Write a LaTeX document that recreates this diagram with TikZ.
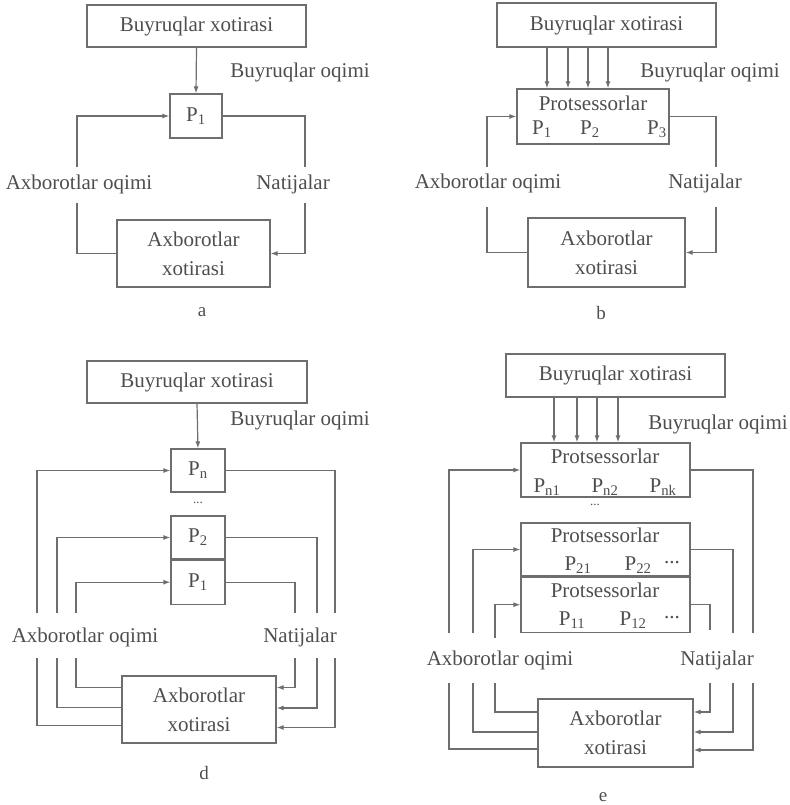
\documentclass[tikz,border=0pt]{standalone}
\usepackage{fontspec}
\setmainfont{Liberation Serif}
\usetikzlibrary{arrows.meta,positioning,calc}
\definecolor{linegray}{HTML}{6E6E6E}
\definecolor{textgray}{HTML}{4E4E4E}
\tikzset{
  membox/.style = {draw=linegray, line width=1.2pt, rectangle, inner sep=0pt,
                   align=center, text=textgray},
  txt/.style    = {text=textgray, inner sep=0pt},
  dots/.style   = {txt, font=\fontsize{13}{14}\selectfont},
  wire/.style   = {draw=linegray, line width=1.2pt},
  sig/.style    = {wire, -{Latex[length=7pt,width=5pt]}},
}
\newcommand{\Ps}[1]{P\textsubscript{#1}}

\begin{document}
\begin{tikzpicture}[x=1pt,y=-1pt,font=\fontsize{21}{29}\selectfont]
\useasboundingbox (0,0) rectangle (789,805);
\node[membox, minimum width=219pt, minimum height=42pt] (bxA) at (196.5,26) {Buyruqlar xotirasi};
\node[membox, minimum width=52pt, minimum height=44pt] (p1A) at (196,116) {\Ps{1}};
\node[membox, minimum width=153pt, minimum height=67pt] (axA) at (193.5,253.5) {Axborotlar\\xotirasi};
\node[txt] (boA) at (300,72) {Buyruqlar oqimi};
\node[txt] (aoA) at (79,184) {Axborotlar oqimi};
\node[txt] (naA) at (293,184) {Natijalar};
\node[txt, font=\fontsize{19}{22}\selectfont] (capA) at (202,312) {a};
\coordinate (aL1) at (77,167); \coordinate (aL2) at (77,203);
\coordinate (aR1) at (305,167); \coordinate (aR2) at (305,203);
\draw[sig] (bxA.south) -- (p1A.north);
\draw[sig] (aL1) |- (p1A.west);
\draw[wire] (aL2) |- (axA.west);
\draw[wire] (p1A.east) -| (aR1);
\draw[sig] (aR2) |- (axA.east);

\node[membox, minimum width=219pt, minimum height=44pt] (bxB) at (606.5,25) {Buyruqlar xotirasi};
\node[membox, minimum width=152pt, minimum height=55pt] (prB) at (593,116.5) {};
\node[txt] (tprB) at (593,103.5) {Protsessorlar};
\node[txt] (p1B) at (542,129.5) {\Ps{1}};
\node[txt] (p2B) at (590,129.5) {\Ps{2}};
\node[txt] (p3B) at (657,129.5) {\Ps{3}};
\node[membox, minimum width=157pt, minimum height=69pt] (axB) at (606.5,252.5) {Axborotlar\\xotirasi};
\node[txt] (boB) at (710,72) {Buyruqlar oqimi};
\node[txt] (aoB) at (488,183) {Axborotlar oqimi};
\node[txt] (naB) at (705,183) {Natijalar};
\node[txt, font=\fontsize{19}{22}\selectfont] (capB) at (601,313) {b};
\foreach \dx in {-46,-25,-5,15} {
  \coordinate (t) at ([xshift=\dx pt]prB.north);
  \draw[sig] (t |- bxB.south) -- (t);
}
\coordinate (bL1) at (487,167); \coordinate (bL2) at (487,207);
\coordinate (bR1) at (716,167); \coordinate (bR2) at (716,207);
\draw[sig] (bL1) |- (prB.west);
\draw[wire] (bL2) |- (axB.west);
\draw[wire] (prB.east) -| (bR1);
\draw[sig] (bR2) |- (axB.east);

\node[membox, minimum width=220pt, minimum height=42pt] (bxD) at (197,382) {Buyruqlar xotirasi};
\node[membox, minimum width=54pt, minimum height=43pt] (pnD) at (198,470.5) {\Ps{n}};
\node[dots] (dtD) at (198,503) {...};
\node[membox, minimum width=54pt, minimum height=43pt] (p2D) at (198,537.5) {\Ps{2}};
\node[membox, minimum width=54pt, minimum height=44pt, below=0pt of p2D] (p1D) {\Ps{1}};
\node[membox, minimum width=154pt, minimum height=67pt] (axD) at (199,709.5) {Axborotlar\\xotirasi};
\node[txt] (boD) at (300,420) {Buyruqlar oqimi};
\node[txt] (aoD) at (85,637) {Axborotlar oqimi};
\node[txt] (naD) at (300,637) {Natijalar};
\node[txt, font=\fontsize{19}{22}\selectfont] (capD) at (204,773) {d};
\draw[sig] (bxD.south) -- (pnD.north);
\coordinate (dLn1) at (37,613); \coordinate (dLn2) at (37,658);
\coordinate (dL21) at (57,613); \coordinate (dL22) at (57,658);
\coordinate (dL11) at (76,613); \coordinate (dL12) at (76,658);
\coordinate (dRn1) at (335,613); \coordinate (dRn2) at (335,658);
\coordinate (dR21) at (317,613); \coordinate (dR22) at (317,658);
\coordinate (dR11) at (295,613); \coordinate (dR12) at (295,658);
\draw[sig] (dLn1) |- (pnD.west);
\draw[sig] (dL21) |- (p2D.west);
\draw[sig] (dL11) |- (p1D.west);
\draw[wire] (dLn2) |- ([yshift=-16pt]axD.west);
\draw[wire] (dL22) |- ([yshift=2pt]axD.west);
\draw[wire] (dL12) |- ([yshift=22pt]axD.west);
\draw[wire] (pnD.east) -| (dRn1);
\draw[wire] (p2D.east) -| (dR21);
\draw[wire] (p1D.east) -| (dR11);
\draw[sig] (dRn2) |- ([yshift=-18pt]axD.east);
\draw[sig] (dR22) |- ([yshift=1.5pt]axD.east);
\draw[sig] (dR12) |- ([yshift=22pt]axD.east);

\node[membox, minimum width=219pt, minimum height=43pt] (bxE) at (615.5,375.5) {Buyruqlar xotirasi};
\node[membox, minimum width=169pt, minimum height=54pt] (pnE) at (605.5,470) {};
\node[txt] (tpnE) at (605,456) {Protsessorlar};
\node[txt] (pn1E) at (547,487) {\Ps{n1}};
\node[txt] (pn2E) at (605,487) {\Ps{n2}};
\node[txt] (pnkE) at (663,487) {\Ps{nk}};
\node[dots] (dtE) at (595,505) {...};
\node[membox, minimum width=169pt, minimum height=53pt] (p2E) at (605.5,549.5) {};
\node[txt] (tp2E) at (605,535) {Protsessorlar};
\node[txt] (p21E) at (578,565) {\Ps{21}};
\node[txt] (p22E) at (638,565) {\Ps{22}};
\node[txt] (d2E) at (672,563) {...};
\node[membox, minimum width=169pt, minimum height=55pt, below=0pt of p2E] (p1E) {};
\node[txt] (tp1E) at (605,590) {Protsessorlar};
\node[txt] (p11E) at (572,620) {\Ps{11}};
\node[txt] (p12E) at (633,620) {\Ps{12}};
\node[txt] (d1E) at (672,618) {...};
\node[membox, minimum width=155pt, minimum height=68pt] (axE) at (615.5,733) {Axborotlar\\xotirasi};
\node[txt] (boE) at (718,424) {Buyruqlar oqimi};
\node[txt] (aoE) at (500,660) {Axborotlar oqimi};
\node[txt] (naE) at (717,660) {Natijalar};
\node[txt, font=\fontsize{19}{22}\selectfont] (capE) at (603,797) {e};
\foreach \dx in {-51.5,-28.5,-8.5,12.5} {
  \coordinate (t) at ([xshift=\dx pt]pnE.north);
  \draw[sig] (t |- bxE.south) -- (t);
}
\coordinate (eLn1) at (449,633); \coordinate (eLn2) at (449,683);
\coordinate (eL21) at (473,633); \coordinate (eL22) at (473,683);
\coordinate (eL11) at (495,638); \coordinate (eL12) at (495,683);
\coordinate (eRn1) at (753,633); \coordinate (eRn2) at (753,683);
\coordinate (eR21) at (733,633); \coordinate (eR22) at (733,683);
\coordinate (eR11) at (710,630); \coordinate (eR12) at (710,683);
\draw[sig] (eLn1) |- (pnE.west);
\draw[sig] (eL21) |- (p2E.west);
\draw[sig] (eL11) |- (p1E.west);
\draw[wire] (eLn2) |- ([yshift=-16pt]axE.west);
\draw[wire] (eL22) |- ([yshift=1pt]axE.west);
\draw[wire] (eL12) |- ([yshift=21pt]axE.west);
\draw[wire] (pnE.east) -| (eRn1);
\draw[wire] (p2E.east) -| (eR21);
\draw[wire] (p1E.east) -| (eR11);
\draw[sig] (eRn2) |- ([yshift=-17pt]axE.east);
\draw[sig] (eR22) |- ([yshift=1pt]axE.east);
\draw[sig] (eR12) |- ([yshift=21pt]axE.east);
\end{tikzpicture}
\end{document}
